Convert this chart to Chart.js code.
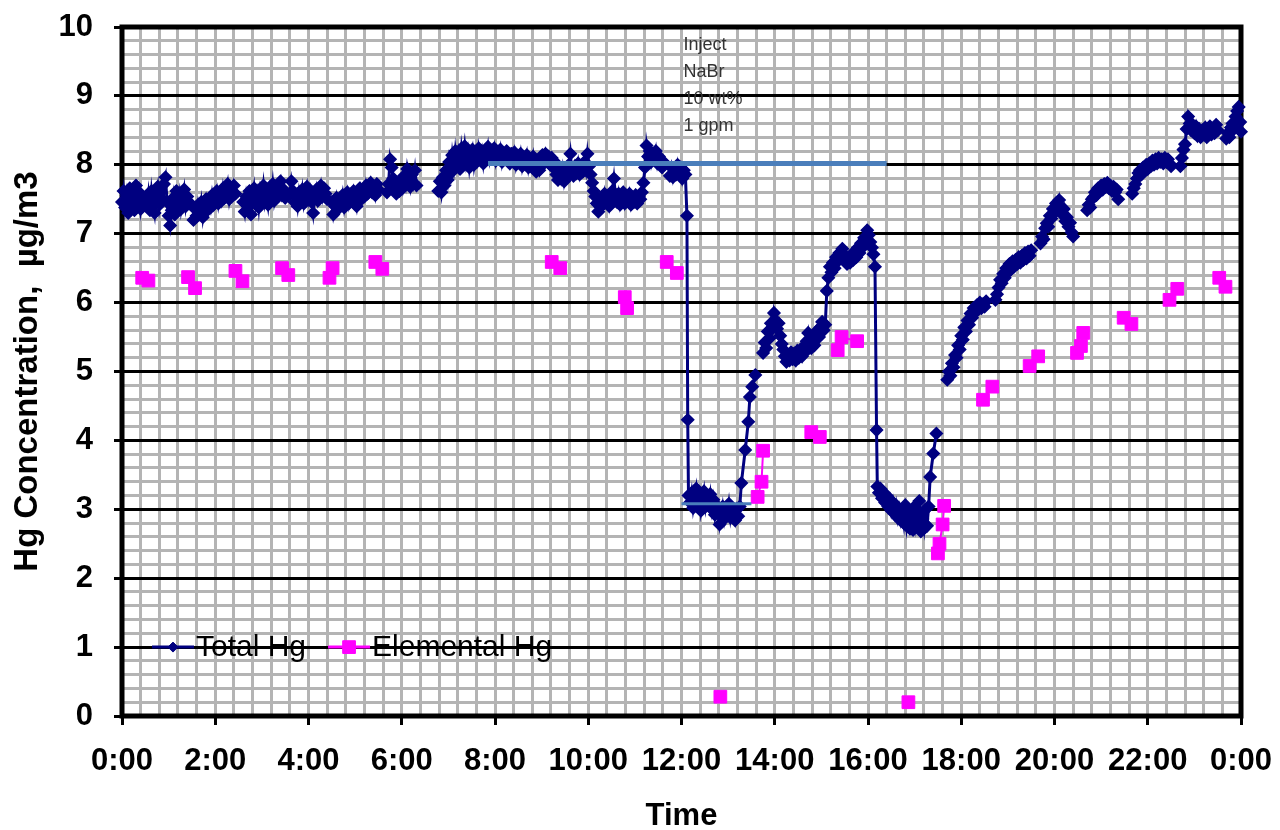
<!DOCTYPE html>
<html lang="en">
<head>
<meta charset="UTF-8">
<title>Hg Concentration</title>
<script src="https://cdn.jsdelivr.net/npm/chart.js"></script>
<style>
  body { margin: 0; background: #fff; }
  #wrap { width: 1280px; height: 830px; }
</style>
</head>
<body>
<div id="wrap"><canvas id="grafica"></canvas></div>
<script>
// times are minutes after midnight, null value = break in the trace
const totalTimes = [
  0, 2, 4, 6, 8, 10, 12, 14, 16, 18, 20, 22, 24, 26, 29,
  32, 34, 36, 38, 40, 42, 44, 46, 48, 50, 52, 54, 56, 58, 60, 62, 64, 66, 68, 70, 72, 74, 76, 78, 80, 82, 84, 86, 89,
  92, 94, 96, 98, 100, 102, 104, 106, 108, 110, 112, 114, 116, 118, 120, 122, 124, 126, 128, 130, 132, 134, 136, 138, 140, 142, 144, 146, 151,
  156, 158, 160, 162, 164, 166, 168, 170, 172, 174, 176, 178, 180, 182, 184, 186, 188, 190, 192, 194, 196, 198, 200, 202, 204, 206, 208, 210, 213,
  216, 218, 220, 222, 224, 226, 228, 230, 232, 234, 236, 238, 240, 242, 244, 246, 248, 250, 252, 254, 256, 258, 260, 262, 264, 267,
  270, 272, 274, 276, 278, 280, 282, 284, 286, 288, 290, 292, 294, 296, 298, 300, 302, 304, 306, 308, 310, 312, 314, 316, 318, 320, 322, 324, 326, 328, 330, 335,
  341, 343, 345, 347, 349, 351, 353, 355, 357, 359, 361, 363, 365, 367, 369, 371, 373, 375, 377, 379, 392,
  407, 409, 411, 413, 415, 417, 419, 421, 423, 425, 427, 429, 431, 433, 435, 437, 439, 441, 443, 445, 447, 449, 451, 453, 455, 457, 459, 461, 463, 465, 467, 469,
  471, 473, 475, 477, 479, 481, 483, 485, 487, 489, 491, 493, 495, 497, 499, 501, 503, 505, 507, 509, 511, 513, 515, 517, 519, 521, 523, 525, 527, 529,
  531, 533, 535, 537, 539, 541, 543, 545, 547, 549, 551, 553, 555, 557, 559, 561, 563, 565, 567, 569, 571, 573, 575, 577, 579, 581, 583, 585, 587, 589,
  591, 593, 595, 597, 599, 601, 603, 605, 607, 609, 611, 613, 615, 617, 619, 621, 623, 625, 627, 629, 631, 633, 635, 637, 639, 641, 643, 645, 647, 649,
  651, 653, 655, 657, 659, 661, 663, 665, 667, 669, 671, 673, 675, 677, 679, 681, 683, 685, 687, 689, 691, 693, 695, 697, 701,
  705, 707, 709, 711, 713, 715, 717, 719, 721, 723, 725, 727, 728, 729,
  731, 733, 735, 737, 739, 741, 743, 745, 747, 749, 751, 753, 755, 757, 759, 761, 763, 765, 767, 769, 771, 773, 775, 777, 779, 781, 783, 785, 787, 789,
  791, 793, 795, 797, 802, 806, 808, 811, 815, 820,
  825, 827, 829, 831, 833, 835, 837, 839, 841, 843, 845, 847, 849, 851, 853, 855, 857, 859, 861, 863, 865, 867, 869, 871, 873, 875, 877, 879, 881, 883,
  885, 887, 889, 891, 893, 895, 897, 899, 901, 903, 905, 907, 909, 911, 913, 915, 917, 919, 921, 923, 925, 927, 929, 931, 933, 935, 937, 939, 941, 943,
  945, 947, 949, 951, 953, 955, 957, 959, 961, 963, 965, 967, 969, 971, 972,
  974, 976, 978, 980, 982, 984, 986, 988, 990, 992, 994, 996, 998, 1000, 1002, 1004, 1006, 1008, 1010, 1012, 1014, 1016, 1018, 1020, 1022, 1024, 1026, 1028, 1030, 1032,
  1034, 1036, 1038, 1040, 1044, 1048, 1055,
  1062, 1064, 1066, 1068, 1070, 1072, 1074, 1076, 1078, 1080, 1082, 1084, 1086, 1088, 1090, 1092, 1094, 1096, 1098, 1100, 1102, 1104, 1106, 1108, 1110, 1112, 1118,
  1124, 1126, 1128, 1130, 1132, 1134, 1136, 1138, 1140, 1142, 1144, 1146, 1148, 1150, 1152, 1154, 1156, 1158, 1160, 1162, 1164, 1166, 1168, 1170, 1176,
  1182, 1184, 1186, 1188, 1190, 1192, 1194, 1196, 1198, 1200, 1202, 1204, 1206, 1208, 1210, 1212, 1214, 1216, 1218, 1220, 1222, 1224, 1233,
  1242, 1244, 1246, 1248, 1250, 1252, 1254, 1256, 1258, 1260, 1262, 1264, 1266, 1268, 1270, 1272, 1274, 1276, 1278, 1280, 1282, 1291,
  1300, 1302, 1304, 1306, 1308, 1310, 1312, 1314, 1316, 1318, 1320, 1322, 1324, 1326, 1328, 1330, 1332, 1334, 1336, 1338, 1340, 1342, 1344, 1346, 1348, 1350, 1356,
  1362, 1364, 1366, 1368, 1370, 1372, 1374, 1376, 1378, 1380, 1382, 1384, 1386, 1388, 1390, 1392, 1394, 1396, 1398, 1400, 1402, 1404, 1406, 1408, 1410, 1416,
  1421, 1423, 1425, 1427, 1429, 1431, 1433, 1435, 1437, 1439, 1440
];
const totalValues = [
  7.46, 7.62, 7.38, 7.55, 7.30, 7.66, 7.42, 7.58, 7.34, 7.70, 7.48, 7.60, 7.36, 7.52, null,
  7.40, 7.58, 7.34, 7.62, 7.44, 7.30, 7.56, 7.68, 7.42, 7.60, 7.50, 7.72, 7.82, 7.46, 7.26, 7.12, 7.34, 7.52, 7.28, 7.62, 7.44, 7.58, 7.36, 7.50, 7.64, 7.40, 7.54, 7.46, null,
  7.20, 7.36, 7.26, 7.42, 7.30, 7.46, 7.24, 7.40, 7.50, 7.34, 7.48, 7.38, 7.56, 7.42, 7.52, 7.62, 7.44, 7.58, 7.48, 7.66, 7.52, 7.60, 7.72, 7.50, 7.64, 7.56, 7.70, 7.58, null,
  7.46, 7.32, 7.54, 7.40, 7.62, 7.28, 7.50, 7.66, 7.44, 7.58, 7.38, 7.62, 7.50, 7.70, 7.46, 7.58, 7.42, 7.64, 7.52, 7.72, 7.48, 7.60, 7.54, 7.68, 7.76, 7.56, 7.64, 7.52, null,
  7.58, 7.76, 7.62, 7.46, 7.56, 7.40, 7.60, 7.48, 7.64, 7.44, 7.56, 7.68, 7.50, 7.62, 7.46, 7.30, 7.52, 7.64, 7.48, 7.58, 7.70, 7.54, 7.66, 7.58, 7.50, null,
  7.46, 7.28, 7.40, 7.52, 7.36, 7.48, 7.42, 7.56, 7.38, 7.50, 7.60, 7.44, 7.56, 7.48, 7.62, 7.52, 7.40, 7.58, 7.66, 7.50, 7.62, 7.54, 7.70, 7.58, 7.64, 7.74, 7.60, 7.68, 7.56, 7.72, 7.64, null,
  7.60, 7.72, 8.08, 7.96, 7.80, 7.64, 7.58, 7.70, 7.62, 7.76, 7.66, 7.84, 7.72, 7.94, 7.80, 7.68, 7.86, 7.74, 7.92, 7.70, null,
  7.62, 7.76, 7.60, 7.82, 7.70, 7.92, 7.78, 8.04, 7.88, 8.14, 7.96, 8.20, 8.02, 8.16, 7.94, 8.24, 8.08, 8.27, 8.04, 8.18, 7.96, 8.12, 8.22, 8.00, 8.16, 8.06, 8.24, 8.10, 8.20, 8.02, 8.18, 8.12,
  8.26, 8.08, 8.20, 8.14, 8.24, 8.06, 8.18, 8.10, 8.22, 8.04, 8.16, 8.08, 8.20, 8.12, 8.02, 8.16, 8.08, 8.18, 8.00, 8.12, 8.04, 8.16, 7.98, 8.10, 8.02, 8.14, 7.96, 8.08, 8.00, 8.12,
  7.94, 7.90, 8.02, 7.92, 8.06, 8.14, 8.02, 8.16, 8.06, 8.12, 8.00, 8.10, 7.96, 8.04, 7.86, 7.78, 7.92, 7.80, 7.94, 7.76, 7.88, 7.82, 8.00, 8.16, 7.90, 7.84, 7.98, 7.88, 8.02, 7.86,
  7.96, 7.90, 8.04, 7.92, 8.16, 7.98, 7.86, 7.74, 7.62, 7.54, 7.44, 7.32, 7.40, 7.50, 7.42, 7.58, 7.46, 7.54, 7.40, 7.52, 7.62, 7.80, 7.56, 7.46, 7.58, 7.42, 7.52, 7.60, 7.44, 7.54,
  7.48, 7.58, 7.42, 7.52, 7.46, 7.56, 7.44, 7.54, 7.50, 7.60, 7.74, 7.96, 8.28, 8.12, 8.20, 8.04, 8.16, 8.08, 8.20, 8.02, 8.12, 8.06, 7.96, 8.04, null,
  7.84, 7.96, 7.82, 7.94, 7.86, 8.00, 7.88, 7.96, 7.80, 7.92, 7.86, 7.26, 4.30, 3.20,
  3.10, 3.24, 3.02, 3.16, 3.30, 3.08, 3.20, 2.98, 3.12, 3.26, 3.04, 3.18, 3.08, 3.22, 3.00, 3.14, 2.92, 3.06, 2.96, 2.78, 2.90, 3.04, 2.86, 3.00, 2.92, 3.08, 2.88, 3.02, 2.94, 2.84,
  3.00, 2.90, 3.04, 3.38, 3.86, 4.27, 4.63, 4.78, 4.95, null,
  5.27, 5.42, 5.34, 5.58, 5.48, 5.70, 5.62, 5.85, 5.74, 5.62, 5.70, 5.52, 5.40, 5.32, 5.22, 5.14, 5.24, 5.16, 5.28, 5.18, 5.26, 5.16, 5.30, 5.20, 5.32, 5.22, 5.36, 5.28, 5.44, 5.56,
  5.40, 5.34, 5.46, 5.38, 5.52, 5.60, 5.50, 5.64, 5.72, 5.60, 5.68, 6.17, 6.36, 6.52, 6.44, 6.58, 6.50, 6.66, 6.60, 6.72, 6.64, 6.78, 6.70, 6.62, 6.56, 6.64, 6.58, 6.70, 6.62, 6.74,
  6.66, 6.80, 6.72, 6.86, 6.80, 6.94, 6.88, 7.05, 6.98, 6.88, 6.80, 6.70, 6.52, 4.15, 3.33,
  3.24, 3.30, 3.16, 3.24, 3.10, 3.20, 3.04, 3.14, 2.98, 3.10, 2.94, 3.06, 2.88, 3.00, 2.84, 2.96, 2.80, 3.06, 2.76, 2.92, 2.72, 2.98, 2.70, 3.04, 2.78, 2.94, 3.12, 2.68, 2.86, 2.72,
  3.00, 2.76, 3.04, 3.47, 3.81, 4.10, null,
  4.88, 5.00, 4.94, 5.12, 5.06, 5.24, 5.20, 5.38, 5.32, 5.52, 5.46, 5.64, 5.58, 5.74, 5.68, 5.84, 5.78, 5.92, 5.86, 5.96, 5.90, 6.00, 5.92, 5.98, 5.94, 6.02, null,
  6.04, 6.12, 6.22, 6.33, 6.28, 6.42, 6.36, 6.50, 6.44, 6.56, 6.48, 6.60, 6.52, 6.62, 6.56, 6.66, 6.58, 6.68, 6.62, 6.72, 6.64, 6.74, 6.68, 6.76, null,
  6.86, 6.96, 6.92, 7.08, 7.15, 7.10, 7.26, 7.22, 7.36, 7.30, 7.44, 7.38, 7.49, 7.34, 7.28, 7.36, 7.18, 7.24, 7.10, 7.16, 7.02, 6.96, null,
  7.34, 7.42, 7.38, 7.50, 7.53, 7.60, 7.56, 7.66, 7.62, 7.70, 7.64, 7.72, 7.68, 7.74, 7.66, 7.70, 7.62, 7.68, 7.60, 7.64, 7.50, null,
  7.58, 7.66, 7.72, 7.80, 7.88, 7.92, 7.86, 7.96, 7.92, 8.00, 7.94, 8.02, 7.98, 8.06, 8.00, 8.08, 8.02, 8.10, 8.04, 8.08, 8.02, 8.10, 8.04, 8.08, 8.02, 7.98, null,
  7.98, 8.10, 8.22, 8.30, 8.52, 8.70, 8.60, 8.50, 8.58, 8.46, 8.56, 8.42, 8.52, 8.40, 8.50, 8.44, 8.54, 8.40, 8.48, 8.56, 8.44, 8.52, 8.46, 8.58, 8.50, null,
  8.38, 8.46, 8.40, 8.54, 8.60, 8.52, 8.70, 8.78, 8.84, 8.62, 8.48
];

const elemTimes = [
  26, 34, 60, 85, 94, 120, 146, 155, 180, 206, 214, 240, 267, 271, 300, 326, 335, 450,
  553, 564, 600, 647, 650, 680, 701, 714, 740, 770, 790,
  818, 823, 825, 850, 887, 898, 910, 921, 926, 946, 980, 1012, 1030,
  1050, 1052, 1056, 1058, 1080, 1108, 1120, 1140, 1168, 1179, 1200,
  1229, 1234, 1237, 1260, 1289, 1299, 1320, 1348, 1358, 1380, 1412, 1420
];
const elemValues = [
  6.36, 6.32, null, 6.37, 6.21, null, 6.46, 6.31, null, 6.50, 6.40, null, 6.36, 6.50, null, 6.59, 6.49, null,
  6.59, 6.50, null, 6.08, 5.92, null, 6.59, 6.43, null, 0.28, null,
  3.18, 3.40, 3.85, null, 4.12, 4.05, null, 5.31, 5.50, 5.44, null, 0.20, null,
  2.36, 2.50, 2.78, 3.05, null, 4.59, 4.78, null, 5.08, 5.22, null,
  5.27, 5.37, 5.56, null, 5.78, 5.69, null, 6.04, 6.20, null, 6.36, 6.23
];

// drawn marker lines (injection period)
const injectTimes = [471, 984];
const injectValues = [8.02, 8.02];
const baseTimes = [720, 810];
const baseValues = [3.08, 3.08];

const hourLabels = ['0:00', '2:00', '4:00', '6:00', '8:00', '10:00', '12:00',
  '14:00', '16:00', '18:00', '20:00', '22:00', '0:00'];
const seriesNames = ['Total Hg', 'Elemental Hg'];
const noteLines = ['Inject', 'NaBr', '10 wt%', '1 gpm'];

const FONT = '"Liberation Sans", Arial, sans-serif';
const NAVY = '#000080';
const MAGENTA = '#ff00ff';
const GRID = '#b4b4b4';

function puntos(xs, ys) {
  return xs.map((x, i) => ({ x: x, y: ys[i] }));
}
function entero(v) {
  return Math.abs(v - Math.round(v)) < 1e-6;
}
function sinRelleno(s) {
  s.paddingLeft = 0; s.paddingRight = 0;
  s.paddingTop = 0; s.paddingBottom = 0;
}

// black frame around the plot
const marco = {
  id: 'marco',
  beforeDatasetsDraw(chart) {
    const a = chart.chartArea, ctx = chart.ctx;
    ctx.save();
    ctx.strokeStyle = '#000';
    ctx.lineWidth = 5;
    ctx.strokeRect(a.left, a.top, a.right - a.left, a.bottom - a.top);
    ctx.restore();
  }
};

// legend inside the plot, at the y = 1 line
const leyenda = {
  id: 'leyenda',
  afterDatasetsDraw(chart) {
    const ctx = chart.ctx;
    const y = chart.scales.y.getPixelForValue(1);
    let x = chart.chartArea.left + 30;
    ctx.save();
    ctx.font = '30px ' + FONT;
    ctx.textBaseline = 'middle';
    [3, 2].forEach(idx => {
      const ds = chart.data.datasets[idx];
      ctx.strokeStyle = ds.borderColor;
      ctx.lineWidth = 3;
      ctx.beginPath();
      ctx.moveTo(x, y);
      ctx.lineTo(x + 42, y);
      ctx.stroke();
      ctx.fillStyle = ds.backgroundColor;
      ctx.lineWidth = 1;
      Chart.helpers.drawPoint(ctx, {
        pointStyle: ds.pointStyle, radius: idx === 3 ? 5 : ds.pointRadius,
        borderWidth: 1, rotation: 0
      }, x + 21, y);
      ctx.fillStyle = '#000';
      ctx.fillText(ds.label, x + 44, y + 1);
      x += 44 + ctx.measureText(ds.label).width + 22;
    });
    ctx.restore();
  }
};

// injection note near 12:00
const nota = {
  id: 'nota',
  afterDatasetsDraw(chart) {
    const ctx = chart.ctx;
    const x = chart.scales.x.getPixelForValue(720) + 2;
    ctx.save();
    ctx.font = '18px ' + FONT;
    ctx.fillStyle = '#333';
    ctx.textBaseline = 'middle';
    noteLines.forEach((t, i) => {
      ctx.fillText(t, x, chart.chartArea.top + 18 + i * 27);
    });
    ctx.restore();
  }
};

const ctx = document.getElementById('grafica').getContext('2d');
new Chart(ctx, {
  type: 'line',
  data: {
    datasets: [
      {
        data: puntos(injectTimes, injectValues),
        borderColor: '#4a7ebb', borderWidth: 5, pointRadius: 0, order: 0
      },
      {
        data: puntos(baseTimes, baseValues),
        borderColor: '#4a7ebb', borderWidth: 3, pointRadius: 0, order: 0
      },
      {
        label: seriesNames[1],
        data: puntos(elemTimes, elemValues),
        borderColor: MAGENTA, backgroundColor: MAGENTA, borderWidth: 2,
        pointStyle: 'rect', pointRadius: 9, pointBorderWidth: 1,
        spanGaps: false, order: 1, clip: 8
      },
      {
        label: seriesNames[0],
        data: puntos(totalTimes, totalValues),
        borderColor: NAVY, backgroundColor: NAVY, borderWidth: 3,
        pointStyle: 'rectRot', pointRadius: 6, pointBorderWidth: 1.5,
        spanGaps: false, order: 2, clip: 8
      }
    ]
  },
  options: {
    responsive: true,
    maintainAspectRatio: false,
    animation: false,
    layout: { padding: { top: 27, right: 39, left: 0, bottom: 0 } },
    elements: { line: { tension: 0 } },
    plugins: {
      legend: { display: false },
      tooltip: { enabled: false }
    },
    scales: {
      x: {
        type: 'linear', min: 0, max: 1440,
        afterFit: s => { s.height = 114; sinRelleno(s); },
        border: { display: false },
        grid: {
          color: GRID, lineWidth: 3,
          tickColor: c => c.tick.value % 120 === 0 ? '#000' : 'rgba(0,0,0,0)',
          tickLength: 9, tickWidth: 3
        },
        ticks: {
          stepSize: 24, autoSkip: false, maxRotation: 0, minRotation: 0,
          padding: 18, color: '#000',
          font: { family: FONT, size: 31, weight: 'bold' },
          callback: v => v % 120 === 0 ? hourLabels[v / 120] : ''
        },
        title: {
          display: true, text: 'Time', color: '#000',
          font: { family: FONT, size: 31, weight: 'bold', lineHeight: 1 },
          padding: { top: 0, bottom: -2 }
        }
      },
      y: {
        min: 0, max: 10,
        afterFit: s => { s.width = 122; sinRelleno(s); },
        border: { display: false },
        grid: {
          color: c => entero(c.tick.value) ? '#000' : GRID, lineWidth: 3,
          tickColor: c => entero(c.tick.value) ? '#000' : 'rgba(0,0,0,0)',
          tickLength: 8, tickWidth: 3
        },
        ticks: {
          stepSize: 0.2, autoSkip: false, padding: 21, color: '#000',
          font: { family: FONT, size: 31, weight: 'bold' },
          callback: v => entero(v) ? String(Math.round(v)) : ''
        },
        title: {
          display: true, text: 'Hg Concentration,  µg/m3', color: '#000',
          font: { family: FONT, size: 33, weight: 'bold', lineHeight: 1.2 },
          padding: { top: 8, bottom: 0 }
        }
      }
    }
  },
  plugins: [marco, leyenda, nota]
});
</script>
</body>
</html>
